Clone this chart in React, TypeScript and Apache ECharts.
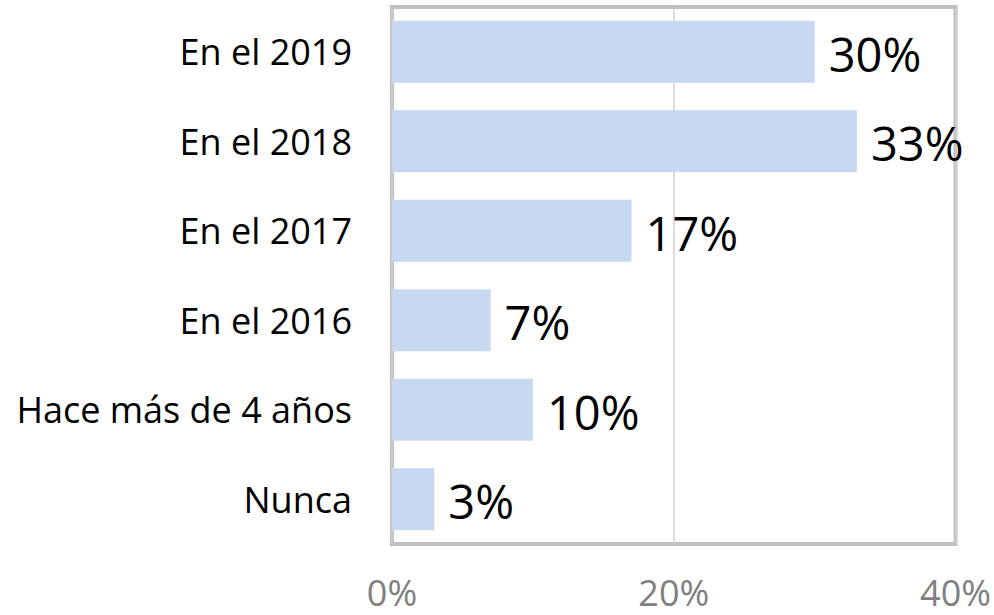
import React, { useEffect, useRef } from "react";
import * as echarts from "echarts";

const categories = ["En el 2019", "En el 2018", "En el 2017", "En el 2016", "Hace más de 4 años", "Nunca"];
const values = [30, 33, 17, 7, 10, 3];
const xTicks = [0, 20, 40];

export default function App() {
  const ref = useRef<HTMLDivElement>(null);
  useEffect(() => {
    const chart = echarts.init(ref.current!, null, { renderer: "svg" });
    chart.setOption({
      animation: false,
      grid: {
        left: 392,
        right: 38,
        top: 7,
        bottom: 71,
        show: true,
        borderColor: "#bfbfbf",
        borderWidth: 4,
        backgroundColor: "transparent",
      },
      xAxis: {
        type: "value",
        min: xTicks[0],
        max: xTicks[xTicks.length - 1],
        interval: 20,
        axisLine: { show: false },
        axisTick: { show: false },
        splitLine: { show: true, lineStyle: { color: "#d0d0d0", width: 1.5 } },
        axisLabel: {
          formatter: "{value}%",
          fontSize: 36,
          color: "#808080",
          margin: 30,
          fontFamily: "Open Sans",
        },
      },
      yAxis: {
        type: "category",
        data: categories,
        inverse: true,
        axisLine: { show: false },
        axisTick: { show: false },
        axisLabel: {
          fontSize: 36,
          color: "#000",
          margin: 40,
          fontFamily: "Open Sans",
        },
      },
      series: [
        {
          type: "bar",
          data: values,
          barCategoryGap: "31%",
          itemStyle: { color: "#c6d9f0" },
          z: 4,
          label: {
            show: true,
            position: "right",
            distance: 14,
            formatter: "{c}%",
            fontSize: 47,
            color: "#000",
            fontFamily: "Open Sans",
            offset: [0, 2],
          },
        },
      ],
    });
    return () => chart.dispose();
  }, []);
  return <div ref={ref} style={{ width: 994, height: 615, position: "absolute", left: 0, top: 0 }} />;
}
